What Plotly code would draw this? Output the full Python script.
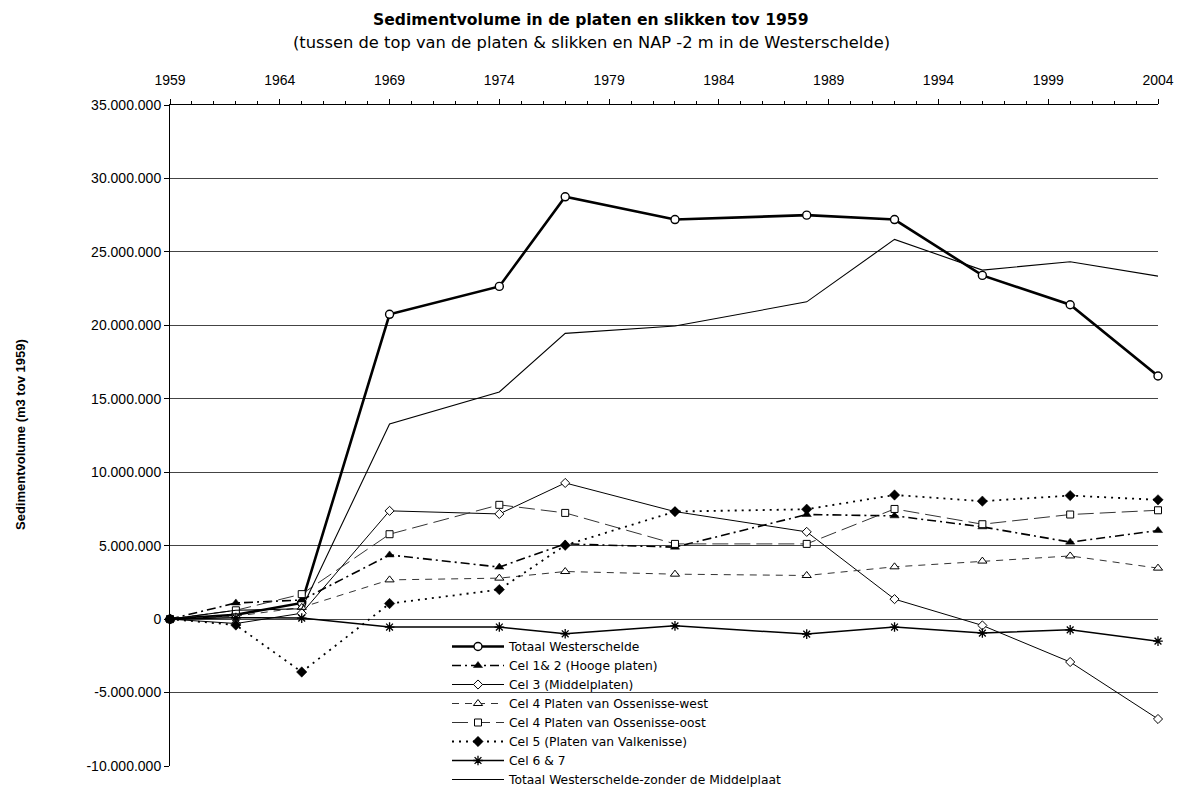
import plotly.graph_objects as go

years = [1959, 1962, 1965, 1969, 1974, 1977, 1982, 1988, 1992, 1996, 2000, 2004]

totaal = [0, 300000, 1100000, 20750000, 22650000, 28750000, 27200000, 27500000, 27200000, 23400000, 21400000, 16550000]
cel12 = [0, 1100000, 1300000, 4370000, 3540000, 5120000, 4900000, 7120000, 7030000, 6280000, 5240000, 6030000]
cel3 = [0, -300000, 400000, 7370000, 7160000, 9270000, 7320000, 5940000, 1360000, -430000, -2920000, -6800000]
cel4w = [0, 200000, 800000, 2670000, 2790000, 3240000, 3060000, 2970000, 3560000, 3950000, 4300000, 3470000]
cel4o = [0, 600000, 1700000, 5780000, 7780000, 7230000, 5120000, 5120000, 7500000, 6460000, 7120000, 7410000]
cel5 = [0, -400000, -3600000, 1060000, 2010000, 5030000, 7320000, 7480000, 8450000, 8030000, 8410000, 8120000]
cel67 = [0, 100000, 70000, -540000, -540000, -1000000, -460000, -1020000, -540000, -950000, -730000, -1500000]
zonder = [0, 600000, 700000, 13290000, 15460000, 19450000, 19950000, 21600000, 25850000, 23760000, 24330000, 23350000]

ytick_vals = [-10000000, -5000000, 0, 5000000, 10000000, 15000000, 20000000, 25000000, 30000000, 35000000]
ytick_text = ["-10.000.000", "-5.000.000", "0", "5.000.000", "10.000.000", "15.000.000",
              "20.000.000", "25.000.000", "30.000.000", "35.000.000"]
xtick_vals = [1959, 1964, 1969, 1974, 1979, 1984, 1989, 1994, 1999, 2004]

title = "Sedimentvolume in de platen en slikken tov 1959"
subtitle = "(tussen de top van de platen & slikken en NAP -2 m in de Westerschelde)"
ytitle = "Sedimentvolume (m3 tov 1959)"

FONT = "Liberation Sans, Arial, sans-serif"
WIDE = "DejaVu Sans, sans-serif"

W, H = 1183, 787
L, R, T, B = 170, 25, 105, 21
PW, PH = W - L - R, H - T - B

def px_x(p):
    return (p - L) / PW

def px_y(p):
    return (H - B - p) / PH

fig = go.Figure()

series = [
    dict(name="Totaal Westerschelde", y=totaal, dash="solid", width=2.6, color="black",
         marker=dict(symbol="circle", size=8, color="white", line=dict(color="black", width=1.4))),
    dict(name="Cel 1& 2 (Hooge platen)", y=cel12, dash="9px,4px,2px,4px", width=1.6, color="black",
         marker=dict(symbol="triangle-up", size=8, color="black", line=dict(color="black", width=0.5))),
    dict(name="Cel 3 (Middelplaten)", y=cel3, dash="solid", width=1, color="black",
         marker=dict(symbol="diamond", size=7, color="white", line=dict(color="black", width=1))),
    dict(name="Cel 4 Platen van Ossenisse-west", y=cel4w, dash="7px,6px", width=1, color="#333333",
         marker=dict(symbol="triangle-up", size=8, color="white", line=dict(color="black", width=1))),
    dict(name="Cel 4 Platen van Ossenisse-oost", y=cel4o, dash="16px,6px", width=1, color="#333333",
         marker=dict(symbol="square", size=7, color="white", line=dict(color="black", width=1))),
    dict(name="Cel 5 (Platen van Valkenisse)", y=cel5, dash="2px,5px", width=1.8, color="black",
         marker=dict(symbol="diamond", size=8, color="black", line=dict(color="black", width=0.5))),
    dict(name="Cel 6 & 7", y=cel67, dash="solid", width=1.5, color="black",
         marker=dict(symbol="asterisk-open", size=8, color="black", line=dict(color="black", width=1.3))),
    dict(name="Totaal Westerschelde-zonder de Middelplaat", y=zonder, dash="solid", width=1.1, color="black",
         marker=None),
]

for s in series:
    kw = dict(x=years, y=s["y"], name=s["name"], cliponaxis=False,
              line=dict(color=s["color"], width=s["width"], dash=s["dash"]))
    if s["marker"] is None:
        kw["mode"] = "lines"
    else:
        kw["mode"] = "lines+markers"
        kw["marker"] = s["marker"]
    fig.add_trace(go.Scatter(**kw))

fig.update_layout(
    width=W, height=H,
    margin=dict(l=L, r=R, t=T, b=B, autoexpand=False),
    paper_bgcolor="white", plot_bgcolor="white",
    font=dict(family=FONT, size=14, color="black"),
    showlegend=True,
    legend=dict(
        x=px_x(447), xanchor="left", y=px_y(632), yanchor="top",
        bgcolor="rgba(255,255,255,0)", borderwidth=0,
        font=dict(family=WIDE, size=12.3, color="black"),
        itemwidth=52, tracegroupgap=0,
        traceorder="normal",
    ),
    shapes=[dict(type="rect", xref="paper", yref="paper",
                 x0=px_x(397), x1=px_x(905), y0=px_y(650), y1=px_y(770),
                 fillcolor="white", line=dict(width=0), layer="between")],
    annotations=[
        dict(text="<b>" + title + "</b>", showarrow=False, xref="paper", yref="paper",
             x=px_x(591), y=px_y(20), xanchor="center", yanchor="middle",
             font=dict(family=WIDE, size=15.6, color="black")),
        dict(text=subtitle, showarrow=False, xref="paper", yref="paper",
             x=px_x(591), y=px_y(43), xanchor="center", yanchor="middle",
             font=dict(family=WIDE, size=16.3, color="black")),
        dict(text="<b>" + ytitle + "</b>", textangle=-90, showarrow=False,
             xref="paper", yref="paper", x=px_x(20), y=px_y(435),
             xanchor="center", yanchor="middle",
             font=dict(family=FONT, size=13, color="black")),
    ],
)

fig.update_xaxes(
    range=[1959, 2004], side="top", tickvals=xtick_vals,
    showgrid=False, zeroline=False,
    showline=True, linecolor="black", linewidth=1,
    ticks="outside", ticklen=5, tickwidth=1, tickcolor="black",
    ticklabelstandoff=8,
    tickfont=dict(family=FONT, size=14),
    minor=dict(dtick=1, tick0=1959, ticks="outside", ticklen=3, tickcolor="black", tickwidth=1, showgrid=False),
)

fig.update_yaxes(
    range=[-10000000, 35000000], tickvals=ytick_vals, ticktext=ytick_text,
    showgrid=True, gridcolor="#444444", gridwidth=1, zeroline=False,
    showline=True, linecolor="black", linewidth=1,
    ticks="outside", ticklen=5, tickwidth=1, tickcolor="black",
    tickfont=dict(family=FONT, size=14),
)

fig.write_html("out.html", config={"displayModeBar": False},
               post_script="document.body.style.margin='0px';")
